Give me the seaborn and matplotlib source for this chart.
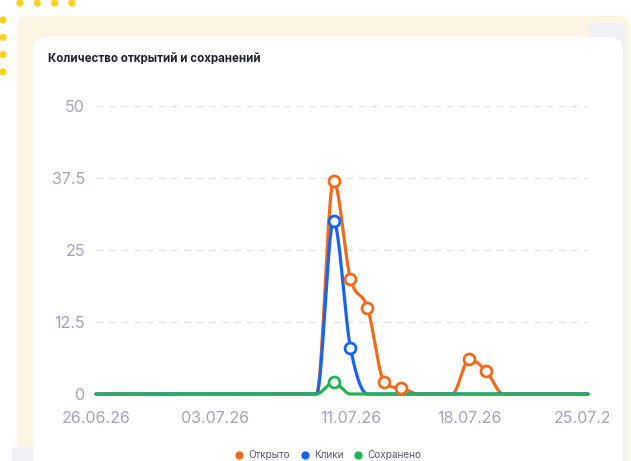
import numpy as np
import pandas as pd
import seaborn as sns
import matplotlib.pyplot as plt
from matplotlib.patches import FancyBboxPatch, Circle
from matplotlib.lines import Line2D
from matplotlib.transforms import Bbox, TransformedBbox

# data: daily values from 26.06.26 to 25.07.26
dates = pd.date_range("2026-06-26", "2026-07-25", freq="D")
opened = [0, 0, 0, 0, 0, 0, 0, 0, 0, 0, 0, 0, 0, 0, 37, 20, 15, 2, 1, 0,
          0, 0, 6, 4, 0, 0, 0, 0, 0, 0]
clicks = [0, 0, 0, 0, 0, 0, 0, 0, 0, 0, 0, 0, 0, 0, 30, 8, 0, 0, 0, 0,
          0, 0, 0, 0, 0, 0, 0, 0, 0, 0]
saved = [0, 0, 0, 0, 0, 0, 0, 0, 0, 0, 0, 0, 0, 0, 2, 0, 0, 0, 0, 0,
         0, 0, 0, 0, 0, 0, 0, 0, 0, 0]
series_names = ["Открыто", "Клики", "Сохранено"]
colors = ["#f26b1d", "#1765ef", "#22b357"]
y_ticks = [0, 12.5, 25, 37.5, 50]
x_tick_labels = ["26.06.26", "03.07.26", "11.07.26", "18.07.26", "25.07.26"]
title = "Количество открытий и сохранений"

W, H = 631, 461


def monotone_curve(x, y, n=24):
    # monotone cubic (Fritsch-Carlson) smoothing, like a "smooth" line chart
    x = np.asarray(x, float)
    y = np.asarray(y, float)
    h = np.diff(x)
    d = np.diff(y) / h
    m = np.zeros_like(y)
    m[0], m[-1] = d[0], d[-1]
    for i in range(1, len(y) - 1):
        m[i] = 0 if d[i - 1] * d[i] <= 0 else (d[i - 1] + d[i]) / 2
    for i in range(len(d)):
        if d[i] == 0:
            m[i] = m[i + 1] = 0
        else:
            a, b = m[i] / d[i], m[i + 1] / d[i]
            s = a * a + b * b
            if s > 9:
                t = 3 / np.sqrt(s)
                m[i], m[i + 1] = t * a * d[i], t * b * d[i]
    xs, ys = [], []
    for i in range(len(d)):
        t = np.linspace(0, 1, n, endpoint=False)
        h00 = 2 * t**3 - 3 * t**2 + 1
        h10 = t**3 - 2 * t**2 + t
        h01 = -2 * t**3 + 3 * t**2
        h11 = t**3 - t**2
        xs.append(x[i] + t * h[i])
        ys.append(h00 * y[i] + h10 * h[i] * m[i] + h01 * y[i + 1] + h11 * h[i] * m[i + 1])
    xs.append([x[-1]])
    ys.append([y[-1]])
    return np.concatenate(xs), np.concatenate(ys)


sns.set_theme(style="white")
plt.rcParams['font.family'] = ['Inter', 'DejaVu Sans']

fig = plt.figure(figsize=(W / 100, H / 100), dpi=100)
fig.patch.set_facecolor("white")

# background decoration
bg = fig.add_axes([0, 0, 1, 1])
bg.set_xlim(0, W)
bg.set_ylim(H, 0)
bg.axis("off")
bg.add_patch(FancyBboxPatch((17, 16), 613, 460, boxstyle="round,pad=0,rounding_size=10",
                            fc="#fdf5e3", ec="none"))
bg.add_patch(FancyBboxPatch((588, 23), 38, 460, boxstyle="round,pad=0,rounding_size=8",
                            fc="#eef0f5", ec="none"))
bg.add_patch(FancyBboxPatch((12, 447), 26, 30, boxstyle="round,pad=0,rounding_size=2",
                            fc="#eef0f5", ec="none"))
bg.add_patch(FancyBboxPatch((33, 37), 590, 440, boxstyle="round,pad=0,rounding_size=14",
                            fc="white", ec="none"))
for k in range(4):
    bg.add_patch(Circle((20 + 17.3 * k, 3), 3.6, fc="#ffd21f", ec="none"))
    bg.add_patch(Circle((3, 20 + 17.3 * k), 3.6, fc="#ffd21f", ec="none"))

fig.text(48 / W, 1 - 59 / H, title, fontsize=8.3, fontweight="bold",
         color="#1e222d", ha="left", va="center")

# chart area
ax = fig.add_axes([96 / W, 67 / H, 492 / W, 288 / H])
ax.set_facecolor("none")
x = np.arange(len(dates))
for name, vals, c in zip(series_names, [opened, clicks, saved], colors):
    xs, ys = monotone_curve(x, vals)
    curve = pd.DataFrame({"x": xs, "y": ys})
    sns.lineplot(data=curve, x="x", y="y", color=c, lw=2.3, ax=ax,
                 solid_capstyle="round", clip_on=False, zorder=3)
    pts = pd.DataFrame({"x": x, "y": vals})
    pts = pts[pts["y"] > 0]
    sns.scatterplot(data=pts, x="x", y="y", s=62, facecolor="white", edgecolor=c,
                    linewidth=2.0, ax=ax, clip_on=False, zorder=4)

ax.set_xlim(0, len(dates) - 1)
ax.set_ylim(0, 50)
ax.set_yticks(y_ticks)
ax.set_yticklabels(["0", "12.5", "25", "37.5", "50"])
tick_pos = [list(dates.strftime("%d.%m.%y")).index(lbl) for lbl in x_tick_labels]
ax.set_xticks(tick_pos)
ax.set_xticklabels(x_tick_labels)
ax.tick_params(axis="both", length=0, labelsize=11.5, labelcolor="#a0a4b6")
ax.tick_params(axis="y", pad=8)
ax.tick_params(axis="x", pad=12)
ax.set_xlabel("")
ax.set_ylabel("")
ax.grid(axis="y", color="#e2e4ea", lw=1, linestyle=(0, (5, 4)))
ax.grid(axis="x", visible=False)
for sp in ax.spines.values():
    sp.set_visible(False)

# the last date label is cut off by the chart area
clip = TransformedBbox(Bbox.from_extents(0, 0, 609 / W, 1), fig.transFigure)
for t in ax.get_xticklabels():
    t.set_clip_box(clip)
    t.set_clip_on(True)

handles = [Line2D([], [], marker="o", ls="none", ms=5, mfc=c, mec=c) for c in colors]
fig.legend(handles, series_names, loc="center", bbox_to_anchor=(328 / W, 1 - 455 / H),
           ncol=3, frameon=False, fontsize=7.2, handletextpad=0.5, columnspacing=1.0,
           handlelength=0.9, labelcolor="#555a68")

fig.savefig("out.png", dpi=100)
